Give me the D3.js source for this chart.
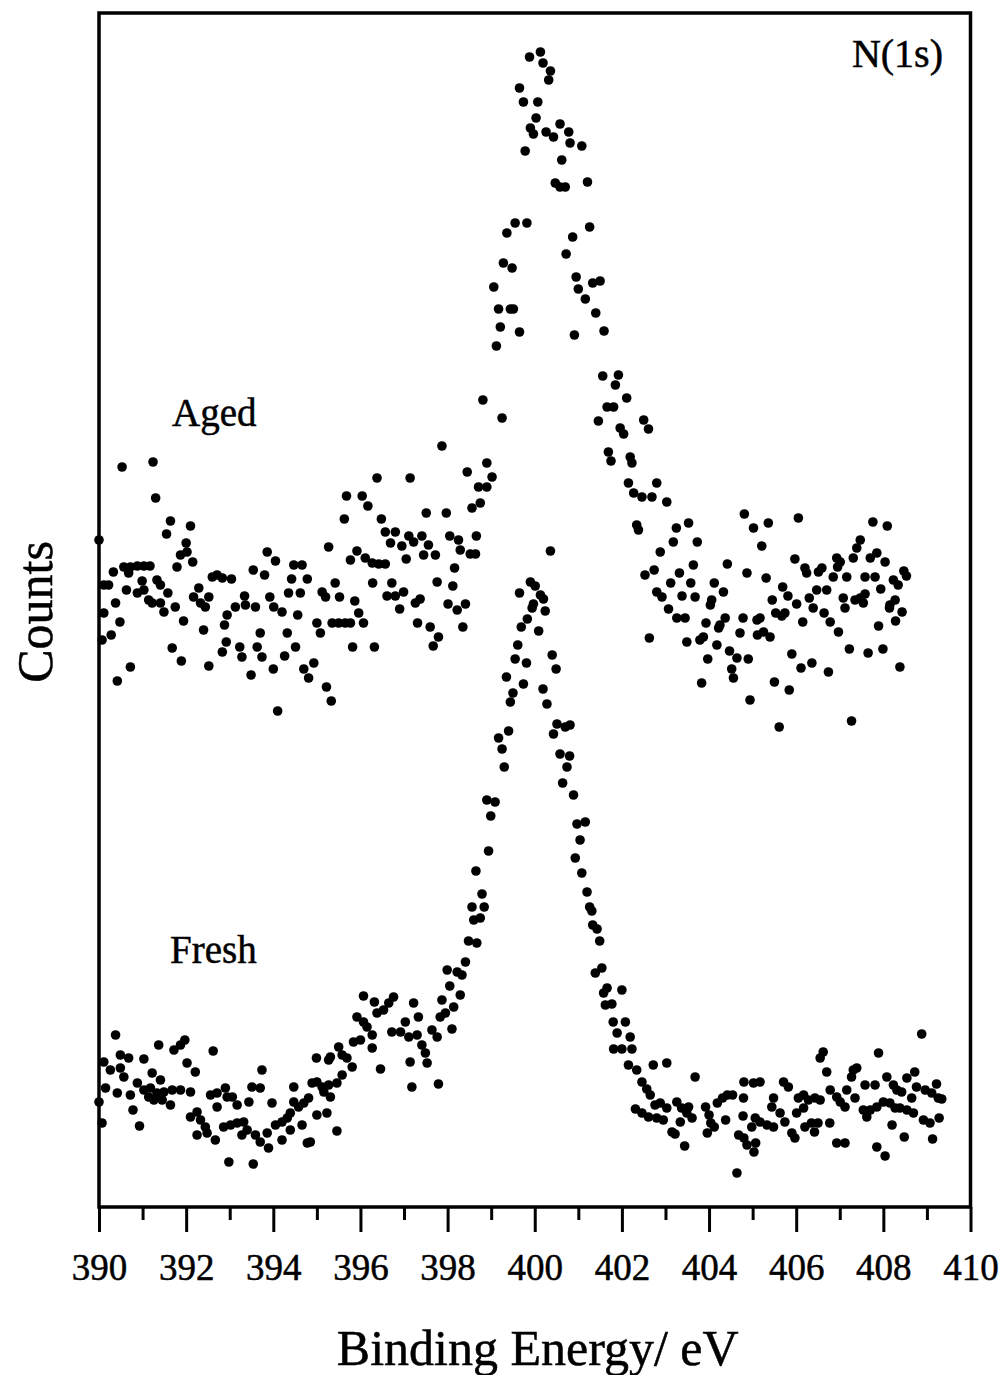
<!DOCTYPE html>
<html>
<head>
<meta charset="utf-8">
<script src="https://cdn.jsdelivr.net/npm/d3@7"></script>
<style>
  html, body { margin: 0; padding: 0; background: #fff; }
  svg { display: block; }
  text { font-family: "Liberation Serif", "Times New Roman", serif; fill: #000; stroke: #000; stroke-width: 0.5px; }
</style>
</head>
<body>
<svg id="chart" width="1004" height="1375"></svg>
<script>
// X axis ticks (binding energy, eV)
const majorTicks = [390, 392, 394, 396, 398, 400, 402, 404, 406, 408, 410];
const minorTicks = [391, 393, 395, 397, 399, 401, 403, 405, 407, 409];

// N(1s) spectrum of the aged sample: [binding energy (eV), counts (arb.)]
const agedData = [
[390.00,667],[390.53,740],[391.24,745],[391.30,709],[391.64,686],[391.55,673],[392.10,681],[392.00,664],[391.87,652],[392.02,655],[391.79,640],[392.15,645],[390.33,635],[390.11,622],[390.22,622],[390.57,640],[390.72,640],[390.88,641],[391.03,641],[391.17,641],[390.68,634],[390.99,626],[391.33,627],[391.41,622],[390.63,617],[390.88,614],[391.03,617],[391.14,607],[391.22,604],[391.58,614],[391.41,604],[391.49,595],[391.75,600],[390.38,604],[390.11,594],[390.48,585],[391.94,586],[390.28,572],[390.07,567],[390.72,540],[390.42,526],[391.68,559],[391.89,546],[392.17,610],[392.29,619],[392.33,604],[392.44,600],[392.52,610],[392.60,630],[392.71,632],[392.83,629],[393.04,628],[392.40,577],[392.52,541],[392.88,582],[392.94,592],[393.13,600],[393.34,611],[393.36,602],[393.59,600],[392.92,565],[392.83,555],[393.23,560],[393.28,550],[393.63,560],[393.74,550],[393.70,574],[393.49,532],[393.54,637],[393.80,632],[393.86,655],[394.05,646],[393.92,610],[394.01,600],[394.20,595],[394.00,538],[394.10,496],[394.26,551],[394.32,574],[394.51,560],[394.56,592],[394.35,614],[394.62,614],[394.42,628],[394.78,628],[394.47,642],[394.66,642],[394.70,538],[394.81,529],[394.93,544],[395.00,584],[395.08,574],[395.12,615],[395.20,610],[395.27,660],[395.22,520],[395.33,506],[395.42,624],[395.52,610],[395.35,584],[395.50,584],[395.65,584],[395.77,584],[395.82,560],[395.87,606],[395.96,594],[396.07,584],[395.63,688],[395.68,711],[395.77,647],[395.92,656],[396.04,711],[396.17,701],[396.11,649],[396.27,644],[396.42,643],[396.57,643],[396.28,624],[396.32,560],[396.38,729],[396.48,688],[396.57,675],[396.69,664],[396.80,675],[396.72,624],[396.61,611],[396.80,611],[396.99,615],[396.90,598],[396.95,661],[397.05,648],[397.14,729],[397.11,671],[397.22,665],[397.41,671],[397.56,662],[397.45,652],[397.72,652],[397.26,604],[397.37,608],[397.31,584],[397.60,580],[397.79,570],[397.67,561],[397.51,694],[397.76,625],[397.87,761],[397.97,694],[398.05,671],[398.25,667],[398.29,657],[398.52,653],[398.64,653],[398.16,639],[398.12,621],[398.01,603],[398.22,597],[398.41,603],[398.35,580],[398.66,671],[398.45,735],[398.56,699],[398.75,704],[398.71,720],[398.90,720],[399.02,730],[398.90,744],[398.81,807],[399.25,789],[399.06,920],[399.17,898],[399.44,898],[399.51,898],[399.21,880],[399.65,875],[399.12,861],[399.28,944],[399.48,939],[399.36,974],[399.55,984],[399.82,984],[399.78,1056],[399.65,1119],[399.88,1150],[400.13,1155],[400.19,1144],[400.36,1136],[400.32,1127],[399.74,1105],[400.07,1105],[400.03,1089],[399.90,1079],[399.97,1073],[400.26,1075],[400.43,1070],[400.58,1083],[400.78,1075],[400.81,1064],[401.08,1061],[400.62,1047],[400.47,1024],[400.58,1020],[400.70,1020],[401.21,1025],[400.87,970],[401.26,980],[400.72,953],[400.95,930],[401.00,918],[401.16,908],[401.33,924],[401.50,926],[401.40,894],[400.91,872],[401.59,876],[401.56,831],[401.92,832],[401.85,822],[402.11,809],[401.66,800],[401.81,800],[401.46,786],[401.96,779],[402.04,773],[402.50,787],[402.61,778],[401.69,755],[401.75,746],[402.19,750],[402.23,744],[402.15,724],[402.27,714],[402.46,710],[402.69,710],[402.80,724],[403.03,705],[402.34,682],[402.38,677],[403.25,679],[403.53,684],[402.88,655],[403.18,665],[403.73,665],[404.81,693],[405.02,679],[405.36,684],[405.21,661],[406.05,689],[404.42,643],[403.64,642],[402.53,632],[402.74,637],[403.32,634],[404.87,634],[405.31,629],[403.12,624],[403.58,624],[404.12,624],[404.33,615],[402.80,615],[402.92,610],[403.38,611],[403.68,610],[404.06,607],[404.03,602],[403.07,598],[403.26,589],[403.45,589],[403.93,584],[402.63,569],[403.49,565],[403.79,567],[403.87,570],[404.18,562],[404.37,589],[404.25,582],[404.22,579],[404.78,589],[404.71,574],[405.10,587],[405.17,589],[405.11,572],[405.25,575],[405.40,570],[404.47,556],[404.64,549],[404.90,548],[404.52,538],[404.56,529],[403.97,548],[403.83,524],[404.94,507],[405.61,480],[405.45,607],[405.53,594],[405.67,591],[405.74,594],[405.69,620],[405.81,611],[406.01,603],[406.15,585],[405.90,553],[406.11,539],[406.36,544],[406.74,535],[405.50,525],[405.84,517],[407.27,486],[405.97,648],[406.20,639],[406.24,634],[406.51,635],[406.59,639],[406.30,609],[406.39,599],[406.47,617],[406.70,617],[406.64,594],[406.78,585],[406.97,575],[406.85,630],[406.93,649],[407.01,645],[406.95,640],[407.16,630],[407.08,609],[407.12,599],[407.35,607],[407.47,609],[407.54,604],[407.58,613],[407.31,649],[407.39,659],[407.47,667],[407.58,630],[407.81,630],[407.70,649],[407.85,654],[408.04,645],[407.76,685],[408.09,681],[407.94,618],[407.89,581],[407.22,558],[407.65,554],[407.99,558],[408.15,602],[408.14,599],[408.27,607],[408.23,627],[408.34,622],[408.47,636],[408.53,631],[408.43,595],[408.28,586],[408.38,540]
];

// N(1s) spectrum of the fresh sample: [binding energy (eV), counts (arb.)]
const freshData = [
[400.36,656],[399.90,625],[400.01,621],[400.13,612],[400.20,608],[399.65,614],[399.97,603],[399.94,599],[400.24,596],[399.83,588],[399.69,580],[400.09,576],[399.61,562],[399.55,548],[399.81,544],[400.40,552],[400.49,538],[399.35,530],[399.74,523],[400.19,518],[400.28,503],[399.50,514],[399.44,505],[400.51,483],[400.81,482],[400.43,473],[400.70,480],[399.40,476],[399.17,469],[399.25,458],[400.58,453],[400.80,451],[400.74,440],[399.30,440],[400.64,424],[400.89,412],[398.90,407],[399.09,405],[398.99,391],[400.97,383],[401.16,385],[401.04,367],[398.94,356],[400.93,349],[401.08,334],[398.65,336],[401.20,315],[398.79,313],[398.56,300],[398.84,300],[398.60,287],[398.75,289],[401.26,300],[401.31,296],[401.33,282],[401.43,278],[401.49,266],[398.48,266],[398.67,264],[401.54,239],[401.39,234],[401.66,219],[401.58,214],[402.00,217],[401.62,202],[401.77,203],
[390.38,172],[390.11,145],[390.26,137],[390.49,139],[390.57,130],[390.49,152],[390.68,149],[391.03,148],[391.37,162],[391.72,157],[391.87,162],[391.97,167],[392.02,144],[392.21,135],[392.62,156],[391.22,134],[391.41,127],[390.88,124],[391.03,117],[391.18,119],[390.15,119],[390.42,114],[390.00,105],[390.72,112],[391.14,110],[391.26,107],[391.33,114],[391.49,115],[391.68,117],[391.87,117],[392.10,115],[391.45,107],[391.64,102],[390.78,97],[390.07,84],[390.93,81],[392.56,112],[392.71,114],[392.90,119],[392.94,110],[393.06,110],[392.71,100],[393.17,102],[393.44,105],[393.51,120],[393.70,119],[393.74,137],[392.10,90],[392.25,95],[392.33,87],[392.44,80],[392.48,74],[392.25,72],[392.67,67],[392.86,80],[393.02,82],[393.17,84],[393.32,85],[393.28,72],[393.40,77],[392.98,45],[393.54,43],[393.59,72],[393.70,65],[393.86,74],[393.89,59],[393.97,104],[394.05,82],[394.20,85],[394.32,89],[394.39,94],[394.20,67],[394.47,120],[394.47,105],[394.58,100],[394.70,104],[394.81,109],[394.66,82],[394.39,77],[394.78,64],[394.85,65],[394.89,124],[395.00,125],[395.12,120],[394.99,149],[395.00,92],[395.23,94],[395.46,76],[395.31,110],[395.16,115],[395.27,122],[395.46,124],[395.58,132],[395.27,147],[395.31,150],[395.50,160],[395.58,152],[395.69,149],[395.81,140],[395.84,165],[396.00,167],[395.92,190],[396.07,185],[396.15,180],[396.27,172],[396.27,159],[396.07,211],[396.32,205],[396.46,138],[396.38,194],[396.53,197],[396.65,204],[396.76,210],[396.72,175],[396.92,175],[397.03,185],[397.11,170],[397.22,204],[397.33,190],[397.14,145],[397.18,120],[397.30,172],[397.41,162],[397.49,154],[397.53,144],[397.64,177],[397.76,170],[397.79,123],[397.87,207],[398.14,200],[397.83,190],[397.95,194],[398.10,178],[398.05,221],[398.29,212],[397.99,237],[398.22,235],[398.33,232],[398.41,245],
[401.80,185],[402.08,185],[401.89,174],[402.19,170],[401.81,158],[402.00,158],[402.23,158],[402.15,142],[402.34,137],[402.72,142],[403.03,144],[402.46,125],[402.57,118],[402.65,112],[403.68,130],[402.31,98],[402.46,94],[402.61,90],[402.80,89],[402.95,87],[402.76,102],[402.88,104],[403.03,99],[403.26,105],[403.37,99],[403.53,100],[403.15,75],[403.22,73],[403.34,85],[403.49,94],[403.61,89],[403.44,61],[403.92,100],[404.00,92],[404.04,84],[403.96,74],[404.12,80],[404.19,104],[404.31,109],[404.42,112],[404.54,112],[404.38,87],[404.64,34],[404.68,72],[404.80,69],[404.87,62],[405.03,55],[405.07,64],[404.80,125],[405.02,124],[405.17,125],[404.79,109],[404.78,91],[405.06,89],[405.17,85],[405.33,82],[405.48,80],[404.98,80],[405.48,109],[405.44,100],[405.63,94],[405.74,85],[405.71,125],[405.82,120],[405.90,74],[405.97,69],[406.05,109],[406.17,112],[406.28,107],[406.43,109],[406.55,107],[406.01,94],[406.17,99],[406.20,80],[406.35,84],[406.50,84],[406.77,84],[406.42,75],[406.55,149],[406.62,155],[406.70,135],[406.78,117],[406.93,110],[407.01,105],[407.12,100],[406.93,64],[407.12,64],[407.16,117],[407.35,109],[407.27,130],[407.31,137],[407.39,139],[407.54,97],[407.62,90],[407.70,97],[407.85,100],[408.00,105],[408.15,104],[408.27,99],[407.58,122],[407.81,122],[407.89,154],[407.85,60],[408.04,51],[408.08,130],[408.23,122],[408.31,117],[408.42,115],[408.20,82],[408.48,70],[408.38,99],[408.54,97],[408.69,94],[408.65,109],[408.54,129],[408.72,135],[408.76,120],[408.96,117],[409.11,114],[409.26,109],[409.34,108],[409.22,123],[408.88,173],[408.92,87],[409.07,84],[409.28,89],[409.13,68]
];

const energyDomain = [390, 410];
const countsDomain = [0, 1194];

// ---- layout ----
const svg = d3.select("#chart");
const plot = { left: 99, right: 970.5, top: 13, bottom: 1207 };

const x = d3.scaleLinear().domain(energyDomain).range([plot.left, plot.right]);
const y = d3.scaleLinear().domain(countsDomain).range([plot.bottom, plot.top]);

// data points (both spectra drawn as filled black dots)
const dots = svg.append("g");
[agedData, freshData].forEach(series => {
  dots.selectAll(null)
    .data(series)
    .enter().append("circle")
    .attr("cx", d => x(d[0]))
    .attr("cy", d => y(d[1]))
    .attr("r", 4.8)
    .attr("fill", "#000");
});

// plot frame
svg.append("rect")
  .attr("x", plot.left).attr("y", plot.top)
  .attr("width", plot.right - plot.left)
  .attr("height", plot.bottom - plot.top)
  .attr("fill", "none")
  .attr("stroke", "#000")
  .attr("stroke-width", 3.5);

// minor ticks
svg.append("g")
  .attr("transform", `translate(0,${plot.bottom})`)
  .call(d3.axisBottom(x).tickValues(minorTicks).tickSize(13).tickFormat(""))
  .call(g => g.select(".domain").remove())
  .call(g => g.selectAll("line").attr("stroke-width", 3));

// major ticks with labels
svg.append("g")
  .attr("transform", `translate(0,${plot.bottom})`)
  .call(d3.axisBottom(x).tickValues(majorTicks).tickSize(25).tickFormat(d3.format("d")))
  .call(g => g.select(".domain").remove())
  .call(g => g.selectAll("line").attr("stroke-width", 3))
  .call(g => g.selectAll("text")
    .attr("y", 73).attr("dy", null)
    .attr("font-size", 37)
    .attr("font-family", "Liberation Serif, Times New Roman, serif")
    .attr("fill", "#000"));

// axis titles
svg.append("text")
  .attr("x", (plot.left + plot.right) / 2 + 3)
  .attr("y", 1365)
  .attr("text-anchor", "middle")
  .attr("font-size", 50)
  .text("Binding Energy/ eV");

svg.append("text")
  .attr("transform", "translate(52,612) rotate(-90)")
  .attr("text-anchor", "middle")
  .attr("font-size", 50)
  .text("Counts");

// annotations
svg.append("text")
  .attr("x", 943).attr("y", 67)
  .attr("text-anchor", "end")
  .attr("font-size", 40)
  .text("N(1s)");

svg.append("text")
  .attr("x", 172).attr("y", 426)
  .attr("font-size", 39)
  .text("Aged");

svg.append("text")
  .attr("x", 170).attr("y", 963)
  .attr("font-size", 39)
  .text("Fresh");
</script>
</body>
</html>
